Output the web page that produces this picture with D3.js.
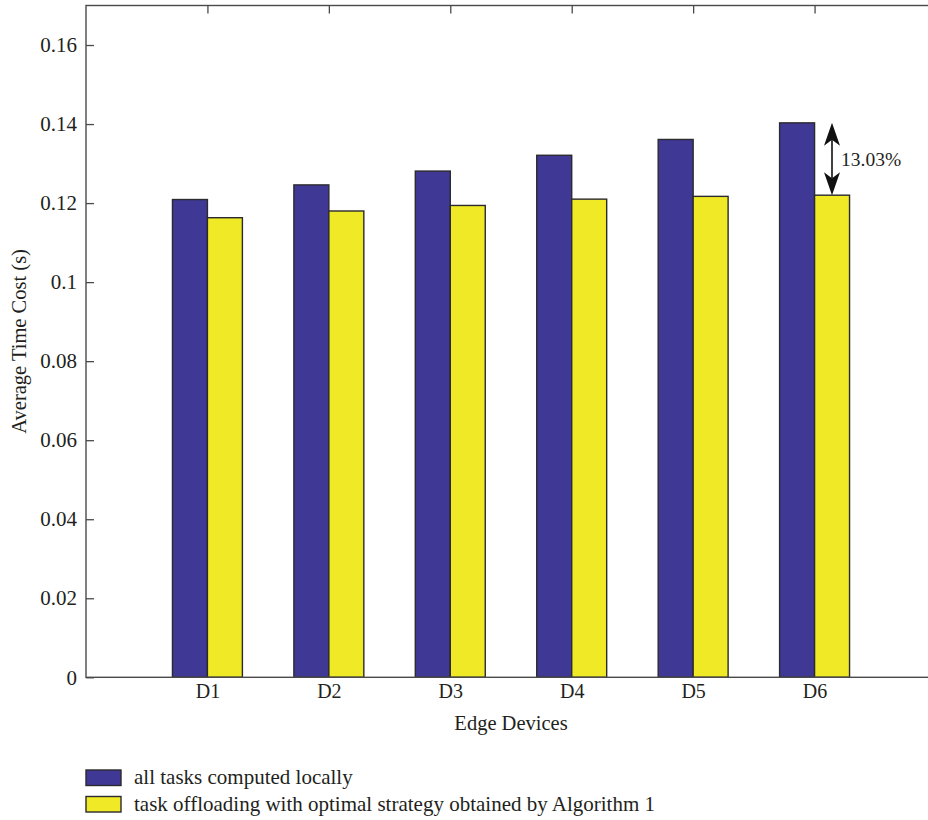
<!DOCTYPE html>
<html>
<head>
<meta charset="utf-8">
<script src="https://cdn.jsdelivr.net/npm/d3@7"></script>
<style>
  html, body { margin: 0; padding: 0; background: #fff; }
  svg { display: block; }
  text { font-family: "Liberation Serif", "DejaVu Serif", serif; fill: #231f20; }
</style>
</head>
<body>
<svg id="chart" width="928" height="820"></svg>
<script>
// Edge devices on the x axis
const devices = ["D1", "D2", "D3", "D4", "D5", "D6"];
// Average time cost (s) when every task runs on the device itself
const localCost = [0.1209, 0.1246, 0.1281, 0.1321, 0.1361, 0.1403];
// Average time cost (s) with the offloading strategy from Algorithm 1
const offloadCost = [0.1163, 0.1180, 0.1194, 0.1210, 0.1217, 0.1220];
// Y tick values and their printed labels
const yTickValues = [0, 0.02, 0.04, 0.06, 0.08, 0.1, 0.12, 0.14, 0.16];
const yTickLabels = ["0", "0.02", "0.04", "0.06", "0.08", "0.1", "0.12", "0.14", "0.16"];
// Legend entries
const seriesNames = [
  "all tasks computed locally",
  "task offloading with optimal strategy obtained by Algorithm 1"
];
const reductionLabel = "13.03%";

const colors = ["#3f3995", "#f0e926"];
const outline = "#2b2a2e";
const serif = "Liberation Serif";

const svg = d3.select("#chart");
const plotLeft = 86, plotRight = 936, plotTop = 5.5, plotBottom = 677.3;

const x = d3.scaleLinear().domain([0, devices.length + 1]).range([plotLeft, plotRight]);
const y = d3.scaleLinear().domain([0, 0.17]).range([plotBottom, plotTop]);
const barW = 0.288; // bar width in x-axis units

// Bars
const series = [localCost, offloadCost];
series.forEach((vals, s) => {
  svg.append("g").selectAll("rect")
    .data(vals)
    .join("rect")
    .attr("x", (d, i) => x(i + 1 + (s === 0 ? -barW : 0)))
    .attr("width", (d, i) => x(i + 1 + barW) - x(i + 1))
    .attr("y", d => y(d))
    .attr("height", d => y(0) - y(d))
    .attr("fill", colors[s])
    .attr("stroke", outline)
    .attr("stroke-width", 1.4);
});

// Plot box
svg.append("rect")
  .attr("x", plotLeft).attr("y", plotTop)
  .attr("width", plotRight - plotLeft).attr("height", plotBottom - plotTop)
  .attr("fill", "none").attr("stroke", "#4a4a4a").attr("stroke-width", 1.4);

// Left axis: inward ticks, labels outside
const yAxis = d3.axisLeft(y)
  .tickValues(yTickValues)
  .tickFormat((d, i) => yTickLabels[i])
  .tickSizeInner(-8).tickSizeOuter(0).tickPadding(9);
const gy = svg.append("g").attr("transform", `translate(${plotLeft},0)`).call(yAxis);
gy.select(".domain").remove();
gy.selectAll(".tick line").attr("stroke", "#4a4a4a").attr("stroke-width", 1.3);
gy.selectAll(".tick text").attr("font-size", 21).attr("font-family", serif).attr("fill", "#231f20");

// Right axis: inward ticks only
const gyr = svg.append("g").attr("transform", `translate(${plotRight},0)`)
  .call(d3.axisRight(y).tickValues(yTickValues).tickSizeInner(-8).tickSizeOuter(0).tickFormat(""));
gyr.select(".domain").remove();
gyr.selectAll(".tick line").attr("stroke", "#4a4a4a").attr("stroke-width", 1.3);

// Top axis: inward ticks at each device
const xTickVals = devices.map((d, i) => i + 1);
const gxt = svg.append("g").attr("transform", `translate(0,${plotTop})`)
  .call(d3.axisTop(x).tickValues(xTickVals).tickSizeInner(-8).tickSizeOuter(0).tickFormat(""));
gxt.select(".domain").remove();
gxt.selectAll(".tick line").attr("stroke", "#4a4a4a").attr("stroke-width", 1.3);

// Bottom axis labels
const gx = svg.append("g").attr("transform", `translate(0,${plotBottom})`)
  .call(d3.axisBottom(x).tickValues(xTickVals).tickFormat((d, i) => devices[i])
    .tickSizeInner(0).tickSizeOuter(0).tickPadding(7));
gx.select(".domain").remove();
gx.selectAll(".tick text").attr("font-size", 20).attr("font-family", serif).attr("fill", "#231f20");

// Axis titles
svg.append("text")
  .attr("x", (plotLeft + plotRight) / 2).attr("y", 730)
  .attr("text-anchor", "middle").attr("font-size", 20.5)
  .text("Edge Devices");
svg.append("text")
  .attr("transform", `translate(26,${(plotTop + plotBottom) / 2}) rotate(-90)`)
  .attr("text-anchor", "middle").attr("font-size", 20.5)
  .text("Average Time Cost (s)");

// Double-headed arrow marking the reduction for the last device
const last = devices.length - 1;
const ax = 832;
const yA = y(localCost[last]), yB = y(offloadCost[last]);
const headL = 23, headW = 8, notch = 6;
svg.append("line")
  .attr("x1", ax).attr("x2", ax)
  .attr("y1", yA + headL - notch).attr("y2", yB - headL + notch)
  .attr("stroke", "#111").attr("stroke-width", 1.6);
const head = (tipY, dir) =>
  `M${ax},${tipY} L${ax + headW},${tipY + dir * headL} L${ax},${tipY + dir * (headL - notch)} L${ax - headW},${tipY + dir * headL} Z`;
svg.append("path").attr("d", head(yA, 1)).attr("fill", "#111");
svg.append("path").attr("d", head(yB, -1)).attr("fill", "#111");
svg.append("text")
  .attr("x", 841).attr("y", (yA + yB) / 2 + 7)
  .attr("font-size", 19.5)
  .text(reductionLabel);

// Legend
const legend = svg.append("g");
seriesNames.forEach((name, i) => {
  const ly = 770 + i * 26.5;
  legend.append("rect")
    .attr("x", 86).attr("y", ly).attr("width", 35).attr("height", 15.5)
    .attr("fill", colors[i]).attr("stroke", outline).attr("stroke-width", 1.4);
  legend.append("text")
    .attr("x", 134).attr("y", ly + 14)
    .attr("font-size", 21)
    .text(name);
});
</script>
</body>
</html>
